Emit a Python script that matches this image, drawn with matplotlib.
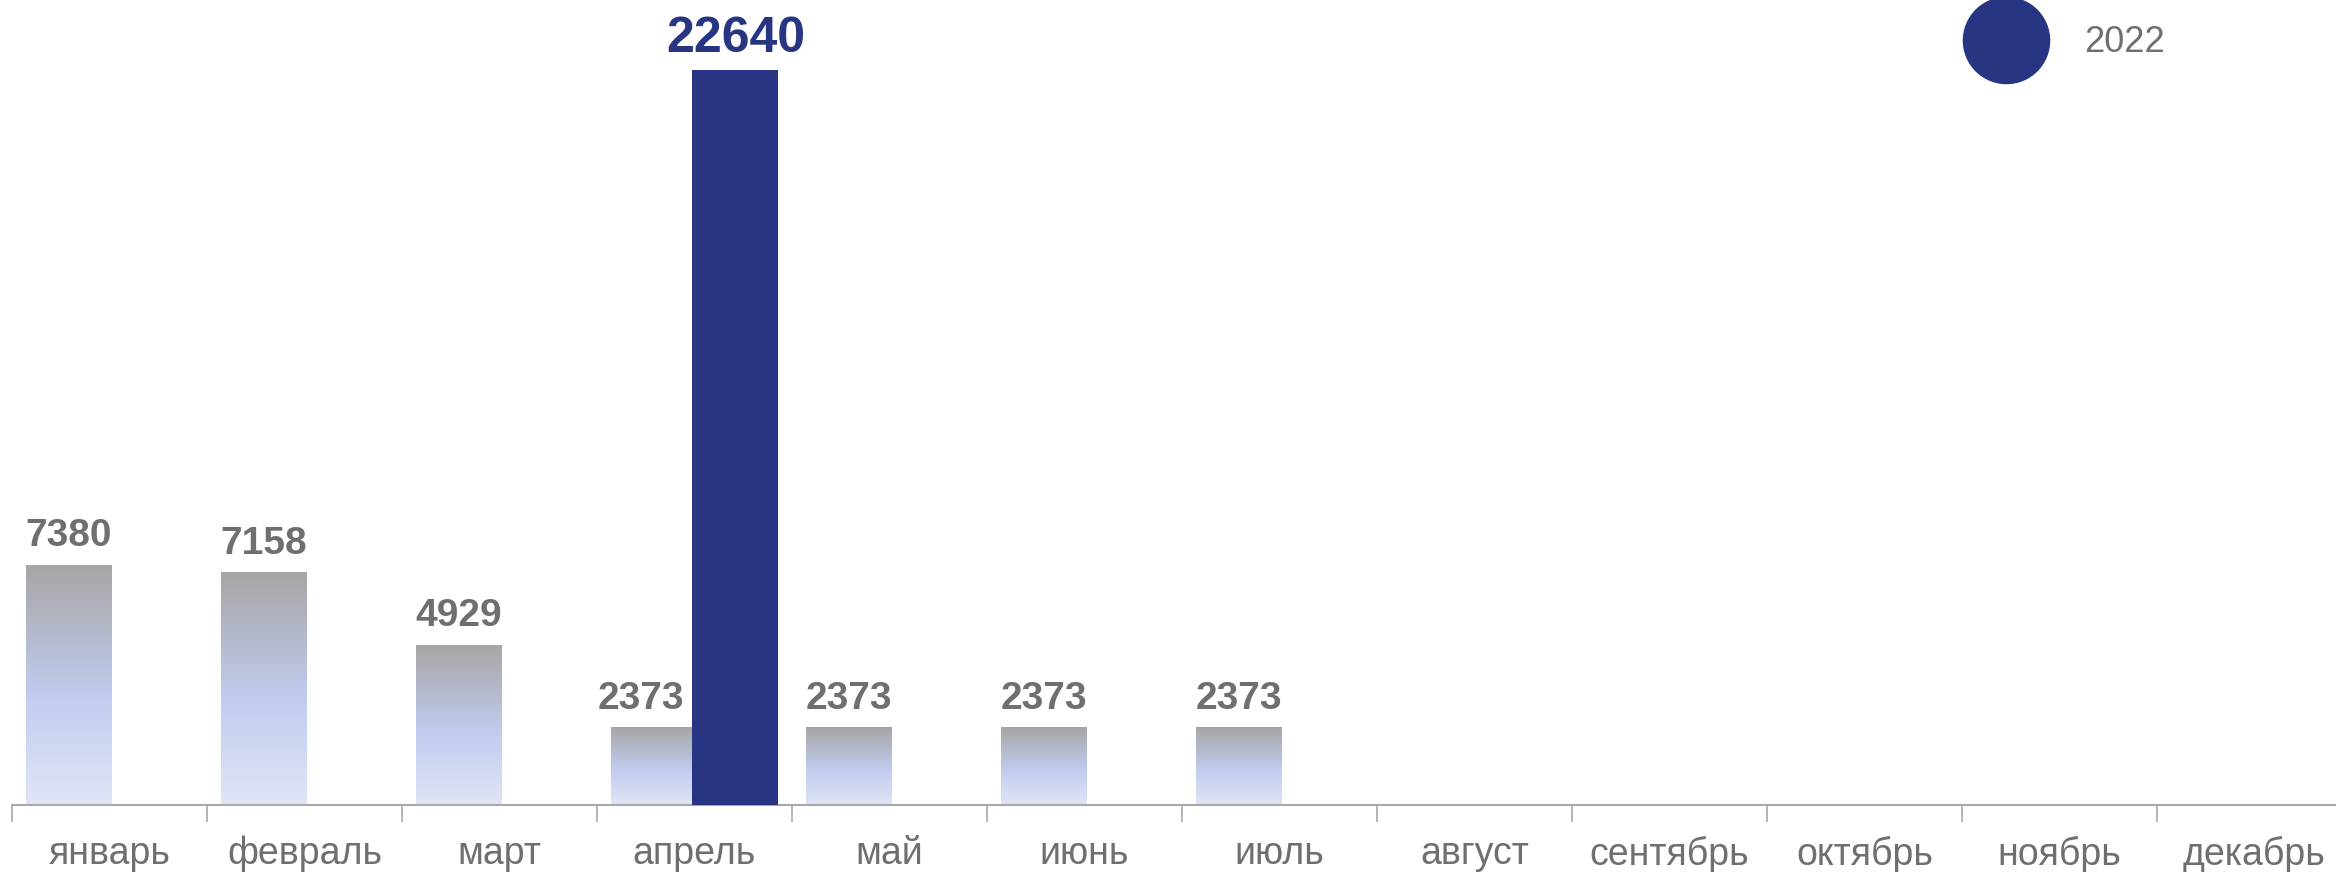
import numpy as np
import matplotlib.pyplot as plt
from matplotlib.colors import LinearSegmentedColormap
from matplotlib.lines import Line2D

plt.rcParams['font.family'] = ['Liberation Sans', 'DejaVu Sans']

# Data
months = ['январь', 'февраль', 'март', 'апрель', 'май', 'июнь', 'июль',
          'август', 'сентябрь', 'октябрь', 'ноябрь', 'декабрь']
prev_values = [7380, 7158, 4929, 2373, 2373, 2373, 2373, None, None, None, None, None]
values_2022 = [None, None, None, 22640, None, None, None, None, None, None, None, None]
series_label = '2022'

blue = '#283583'
label_gray = '#6f6f6f'
axis_gray = '#a8a8a8'

fig = plt.figure(figsize=(23.36, 8.72), dpi=100)
ax = fig.add_axes([0.0051, 0.0768, 1.0017, 0.9232])

x = np.arange(len(months))
bw = 0.44

# gradient colormap for the grey bars (top -> bottom)
grad_cmap = LinearSegmentedColormap.from_list(
    'grad', [(0.0, '#a6a6a6'), (0.55, '#c1ccef'), (1.0, '#e0e5f6')])
grad = np.linspace(0, 1, 256).reshape(-1, 1)

px = [xi for xi, v in zip(x, prev_values) if v is not None]
pv = [v for v in prev_values if v is not None]
bars = ax.bar(np.array(px) - bw / 2 + 0.01, pv, width=bw, color='none', edgecolor='none')
for xi, b, v in zip(px, bars, pv):
    x0, w, h = b.get_x(), b.get_width(), b.get_height()
    ax.imshow(grad, extent=[x0, x0 + w, 0, h], aspect='auto', cmap=grad_cmap,
              origin='upper', zorder=2)
    # nudge the label left when a 2022 bar stands next to it
    dx = -9 if values_2022[xi] is not None else 0
    ax.annotate(str(v), (x0 + w / 2, h), xytext=(dx, 8), textcoords='offset points',
                ha='center', va='bottom', fontsize=28, fontweight='bold', color=label_gray)

bx = [xi for xi, v in zip(x, values_2022) if v is not None]
bv = [v for v in values_2022 if v is not None]
bars2 = ax.bar(np.array(bx) + bw / 2 - 0.01, bv, width=bw, color=blue, zorder=3)
for b, v in zip(bars2, bv):
    ax.annotate(str(v), (b.get_x() + b.get_width() / 2, b.get_height()), xytext=(0, 6),
                textcoords='offset points', ha='center', va='bottom',
                fontsize=36, fontweight='bold', color=blue)

ax.set_xlim(-0.5, len(months) - 0.5)
ax.set_ylim(0, 24800)

for s in ['top', 'right', 'left']:
    ax.spines[s].set_visible(False)
ax.spines['bottom'].set_color(axis_gray)
ax.spines['bottom'].set_linewidth(1.5)
ax.set_yticks([])

ax.set_xticks(x)
ax.set_xticklabels(months, fontsize=27, color=label_gray)
ax.tick_params(axis='x', which='major', length=0, pad=22)
ax.set_xticks(np.arange(-0.5, len(months)), minor=True)
ax.tick_params(axis='x', which='minor', length=12, width=1.2, color=axis_gray)

handle = Line2D([], [], marker='o', linestyle='none', markersize=62,
                markerfacecolor=blue, markeredgecolor=blue)
fig.legend([handle], [series_label], loc='center', bbox_to_anchor=(0.887, 0.951),
           frameon=False, fontsize=26, labelcolor=label_gray,
           handlelength=1.5, handletextpad=1.4, borderpad=0)

fig.savefig('out.png', dpi=100)
